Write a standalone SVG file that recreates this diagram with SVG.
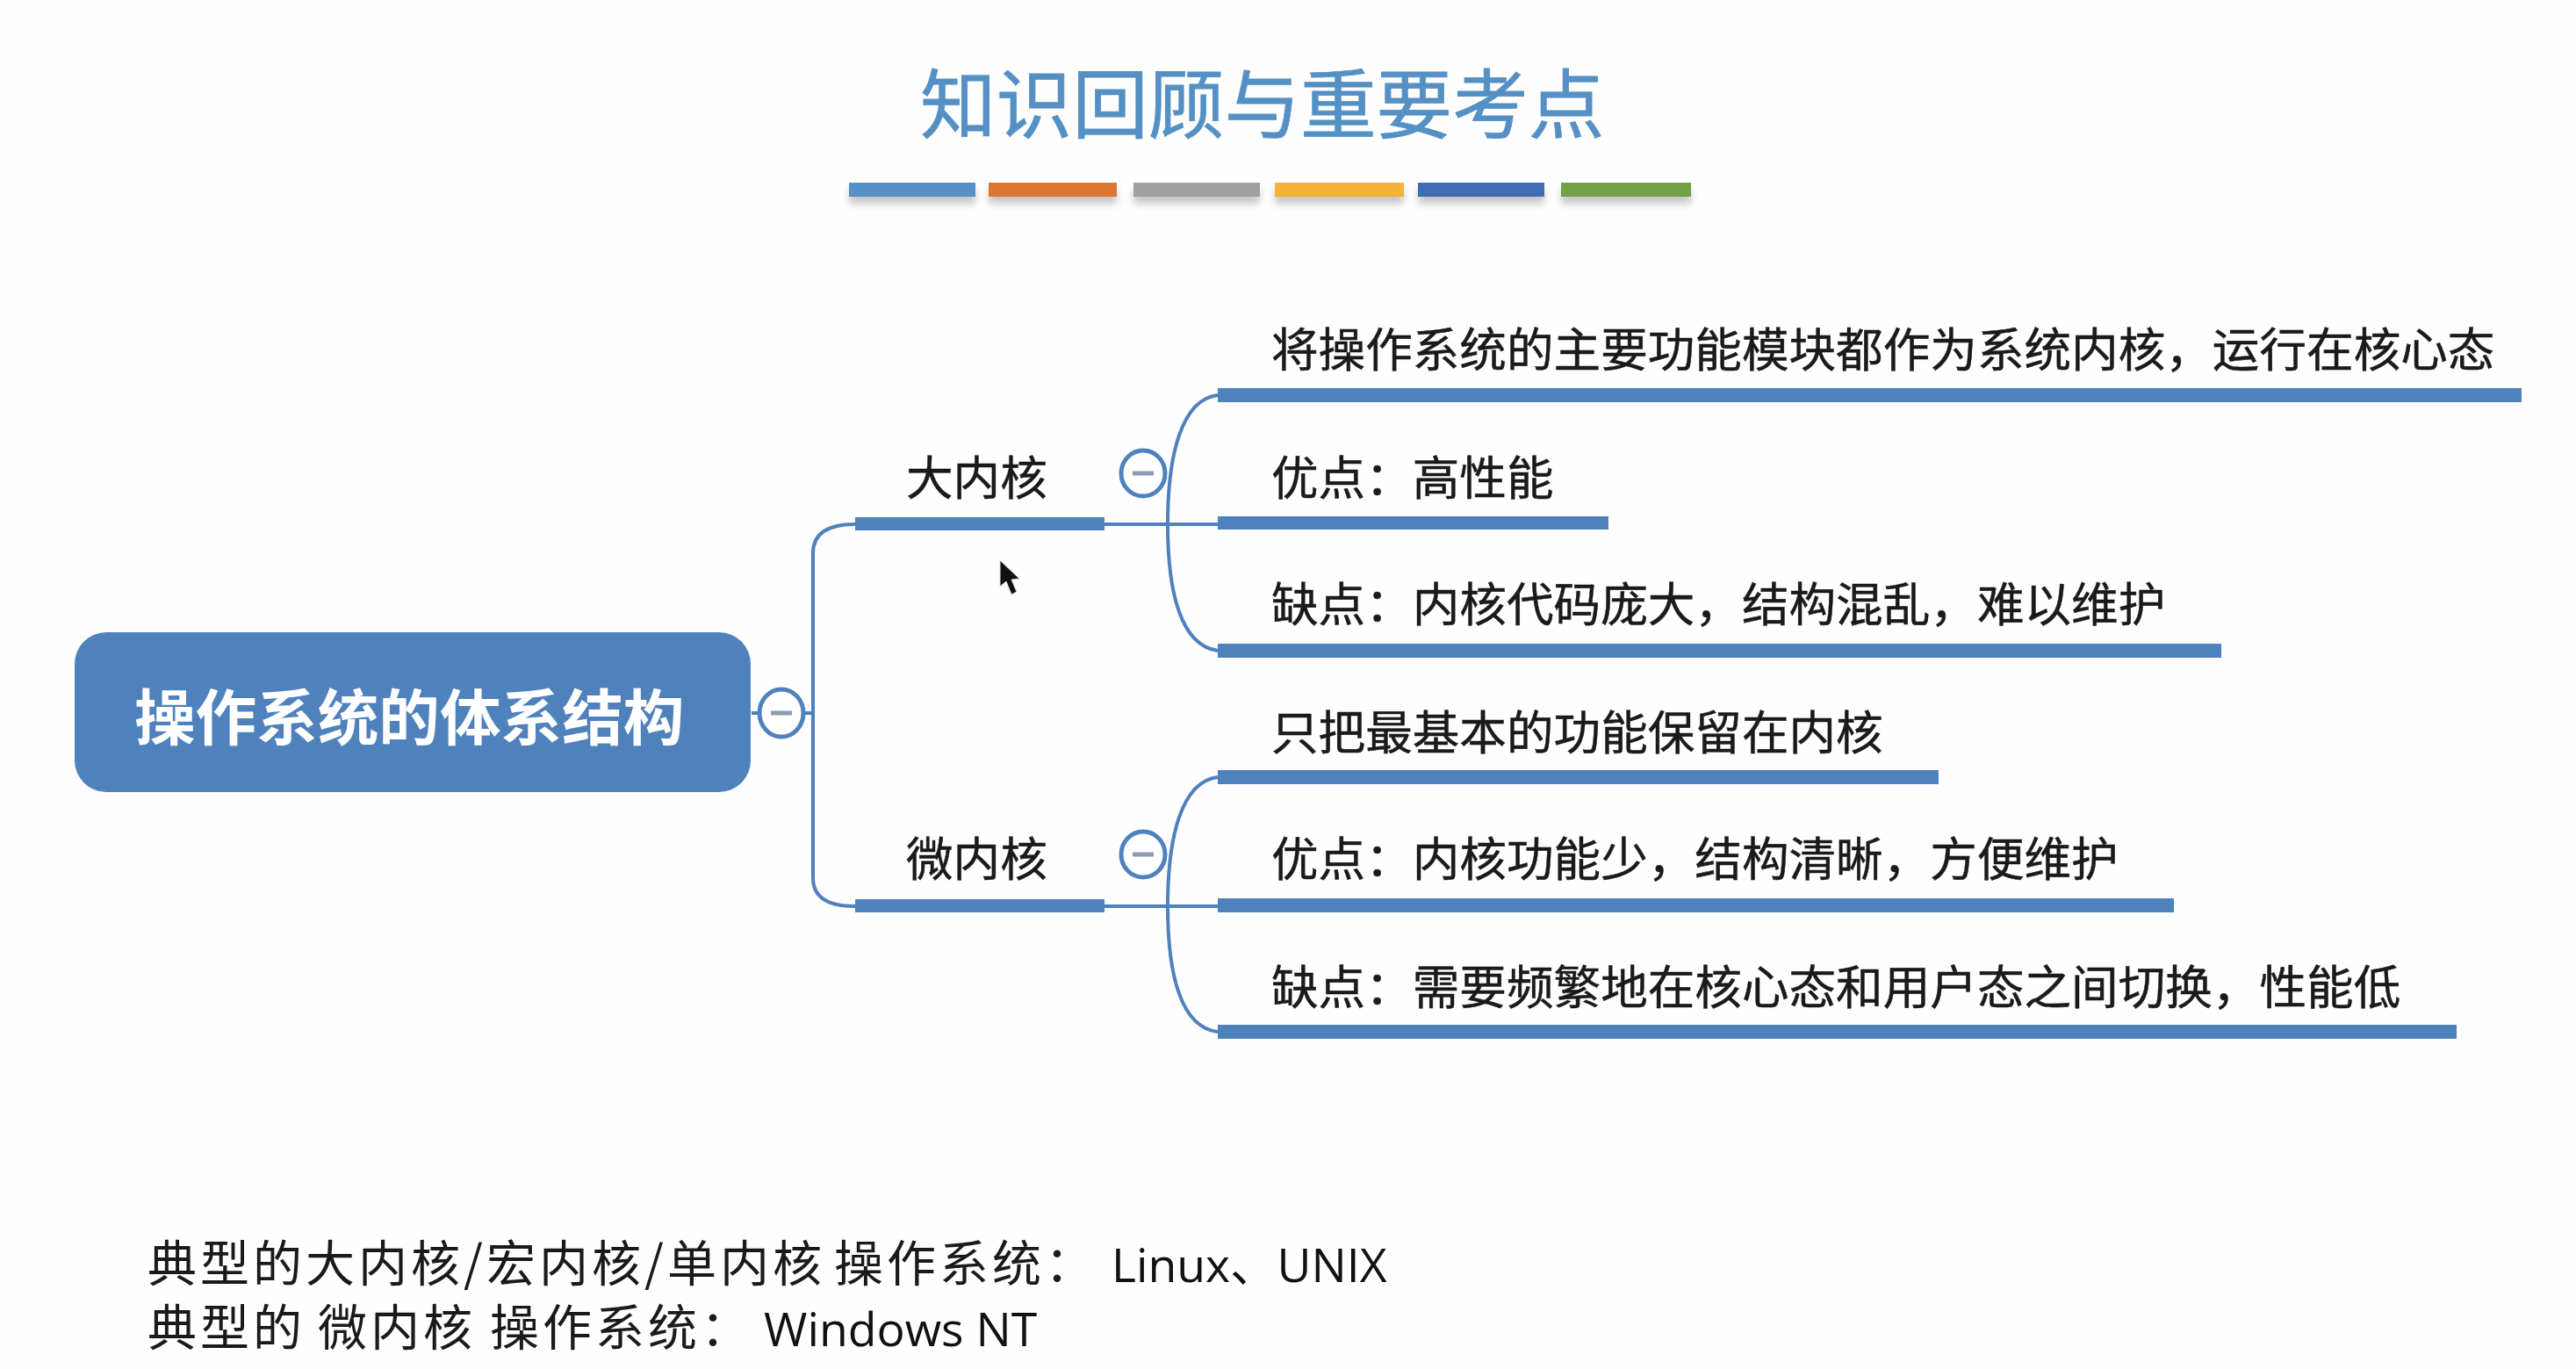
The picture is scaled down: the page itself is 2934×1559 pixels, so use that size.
<svg xmlns="http://www.w3.org/2000/svg" width="2934" height="1559" viewBox="0 0 2934 1559">
<defs>
<style>
.t{font-family:"Noto Sans CJK SC","Microsoft YaHei",sans-serif;font-size:53.6px;fill:#1a1a1a;stroke:#1a1a1a;stroke-width:.5}
.n{font-family:"Noto Sans CJK SC",sans-serif;font-size:56px;fill:#1a1a1a}
.l{font-family:"Open Sans","Noto Sans CJK SC",sans-serif;font-size:53.5px;fill:#111}
.b{fill:#4f81bd}
.c{fill:none;stroke:#4f81bd;stroke-width:4}
.o{fill:#fff;stroke:#4f81bd;stroke-width:5}
.m{fill:none;stroke:#8d9ab2;stroke-width:5}
.s{fill:#000;opacity:.22}
</style>
<filter id="blur" x="-10%" y="-60%" width="120%" height="250%"><feGaussianBlur stdDeviation="4"/></filter>
</defs>
<rect width="2934" height="1559" fill="#fefefe"/>
<rect x="2110" y="10" width="824" height="240" rx="30" fill="#fdfdfe"/>
<g id="title">
<text x="1048" y="151" style="font-family:'Noto Sans CJK SC',sans-serif;font-size:86.6px;fill:#5490c4;stroke:#5490c4;stroke-width:.8">知识回顾与重要考点</text>
<g filter="url(#blur)" class="s"><rect x="967" y="216" width="144" height="16"/><rect x="1126" y="216" width="146" height="16"/><rect x="1291" y="216" width="144" height="16"/><rect x="1452" y="216" width="147" height="16"/><rect x="1615" y="216" width="144" height="16"/><rect x="1778" y="216" width="148" height="16"/></g>
<rect x="967" y="208" width="144" height="16" fill="#5590c8"/>
<rect x="1126" y="208" width="146" height="16" fill="#dd7434"/>
<rect x="1291" y="208" width="144" height="16" fill="#a0a0a0"/>
<rect x="1452" y="208" width="147" height="16" fill="#f5b234"/>
<rect x="1615" y="208" width="144" height="16" fill="#3e6cb5"/>
<rect x="1778" y="208" width="148" height="16" fill="#72a044"/>
</g>
<g id="connectors">
<path class="c" d="M974 597Q926 597 926 630V1000Q926 1032 974 1032"/>
<path class="c" d="M1258 597H1387M1258 1032H1387"/>
<path class="c" d="M1387 450C1345 455 1330 520 1330 597C1330 675 1345 735 1387 741"/>
<path class="c" d="M1387 885C1345 890 1330 955 1330 1032C1330 1110 1345 1170 1387 1175"/>
<path class="c" d="M856 812H865M915 812H926"/>
</g>
<g id="root">
<rect class="b" x="85" y="720" width="770" height="182" rx="36"/>
<text x="153" y="843" style="font-family:'Noto Sans CJK SC',sans-serif;font-size:69.6px;font-weight:700;fill:#fff">操作系统的体系结构</text>
<ellipse class="o" cx="890" cy="812" rx="25" ry="27"/><path class="m" d="M878 812H902"/>
</g>
<g id="big-kernel">
<rect class="b" x="974" y="589" width="284" height="15"/>
<text class="t" x="1032" y="564">大内核</text>
<ellipse class="o" cx="1302" cy="539" rx="25" ry="26"/><path class="m" d="M1290 539H1314"/>
</g>
<g id="micro-kernel">
<rect class="b" x="974" y="1024" width="284" height="15"/>
<text class="t" x="1032" y="998">微内核</text>
<ellipse class="o" cx="1302" cy="973" rx="25" ry="26"/><path class="m" d="M1290 973H1314"/>
</g>
<g id="b1"><rect class="b" x="1387" y="442" width="1485" height="16"/><text class="t" x="1448" y="418">将操作系统的主要功能模块都作为系统内核，运行在核心态</text></g>
<g id="b2"><rect class="b" x="1387" y="588" width="445" height="15"/><text class="t" x="1448" y="564">优点：高性能</text></g>
<g id="b3"><rect class="b" x="1387" y="733" width="1143" height="16"/><text class="t" x="1448" y="708">缺点：内核代码庞大，结构混乱，难以维护</text></g>
<g id="m1"><rect class="b" x="1387" y="877" width="821" height="16"/><text class="t" x="1448" y="854">只把最基本的功能保留在内核</text></g>
<g id="m2"><rect class="b" x="1387" y="1023" width="1089" height="16"/><text class="t" x="1448" y="998">优点：内核功能少，结构清晰，方便维护</text></g>
<g id="m3"><rect class="b" x="1387" y="1167" width="1411" height="16"/><text class="t" x="1448" y="1144">缺点：需要频繁地在核心态和用户态之间切换，性能低</text></g>
<g id="notes">
<text class="n" x="168" y="1459" letter-spacing="4">典型的大内核/宏内核/单内核</text>
<text class="n" x="950" y="1459" letter-spacing="4">操作系统：</text>
<text class="l" x="1266" y="1460">Linux、UNIX</text>
<text class="n" x="168" y="1532" letter-spacing="4">典型的</text>
<text class="n" x="362" y="1532" letter-spacing="4">微内核</text>
<text class="n" x="558" y="1532" letter-spacing="4">操作系统：</text>
<text class="l" x="870" y="1533">Windows NT</text>
</g>
<path id="cursor" d="M1139 638V668L1146 662L1152 677L1158 674L1152 660L1161 659Z" fill="#111" stroke="#ddd" stroke-width="1"/>
</svg>
